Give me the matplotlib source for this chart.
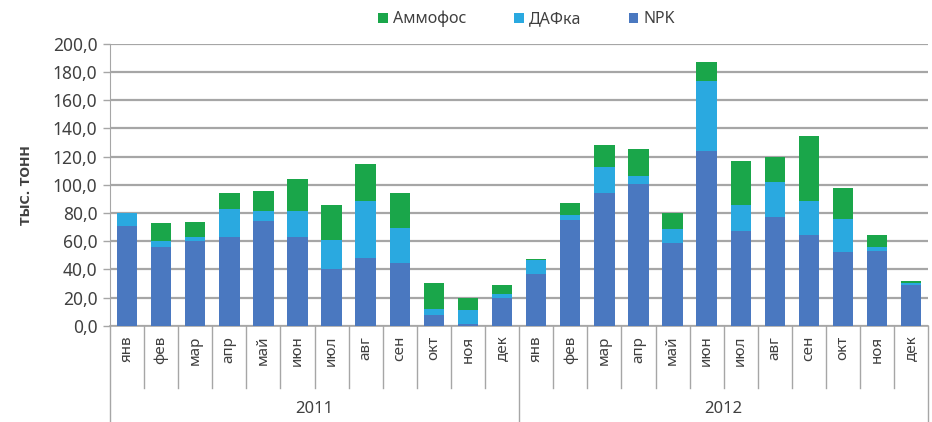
import numpy as np
import matplotlib
matplotlib.use('Agg')
import matplotlib.pyplot as plt
import matplotlib.transforms as mtransforms

plt.rcParams['font.family'] = ['Noto Sans', 'DejaVu Sans']

months = ['янв', 'фев', 'мар', 'апр', 'май', 'июн', 'июл', 'авг', 'сен', 'окт', 'ноя', 'дек']
years = ['2011', '2012']

# тыс. тонн
npk = [70.5, 56.0, 60.5, 62.7, 74.0, 63.0, 40.2, 48.3, 44.5, 8.0, 1.5, 20.0,
       37.0, 75.0, 94.0, 100.6, 58.5, 124.0, 67.5, 77.0, 64.4, 52.0, 53.0, 29.0]
dap = [9.5, 4.0, 2.3, 20.0, 7.2, 18.5, 21.0, 40.0, 25.0, 4.0, 10.0, 2.3,
       9.5, 3.3, 19.0, 6.0, 10.0, 49.7, 18.0, 25.3, 24.0, 23.5, 3.0, 1.7]
ammo = [0.3, 12.7, 11.0, 11.3, 14.2, 22.5, 24.7, 26.7, 24.5, 18.0, 8.4, 6.6,
        1.0, 8.5, 15.0, 19.0, 11.5, 13.3, 31.3, 17.5, 46.3, 22.0, 8.2, 1.2]
yticks = np.arange(0, 201, 20)

c_npk = '#4a78c0'
c_dap = '#2aa9e0'
c_ammo = '#1aa64a'
grey = '#a6a6a6'
txt = '#404040'

labels = months * 2
x = np.arange(len(labels))
npk = np.array(npk)
dap = np.array(dap)
ammo = np.array(ammo)

fig = plt.figure(figsize=(9.32, 4.22), dpi=100)
ax = fig.add_axes([0.118, 0.228, 0.878, 0.668])

w = 0.6
ax.bar(x, npk, w, color=c_npk, label='NPK', zorder=3)
ax.bar(x, dap, w, bottom=npk, color=c_dap, label='ДАФка', zorder=3)
ax.bar(x, ammo, w, bottom=npk + dap, color=c_ammo, label='Аммофос', zorder=3)

ax.set_ylim(0, 200)
ax.set_xlim(-0.5, len(labels) - 0.5)
ax.set_yticks(yticks)
ax.set_yticklabels([('%.1f' % v).replace('.', ',') for v in yticks],
                   fontsize=12.5, color=txt)
ax.yaxis.grid(True, color=grey, linewidth=1.6, zorder=0)
ax.tick_params(axis='y', length=5, width=1, color=grey, pad=4)
ax.set_xticks([])
for s in ['top', 'right']:
    ax.spines[s].set_visible(False)
ax.spines['left'].set_color(grey)
ax.spines['bottom'].set_color(grey)
ax.spines['bottom'].set_linewidth(1.2)

ax.set_ylabel('ТЫС. ТОНН', fontsize=9, fontweight='bold', color=txt,
              labelpad=14, family='DejaVu Sans')

# month labels and category separators
trans = mtransforms.blended_transform_factory(ax.transData, ax.transAxes)
for i, m in enumerate(labels):
    ax.text(x[i], -0.035, m, transform=trans, rotation=90, ha='center', va='top',
            fontsize=11, color=txt, clip_on=False)
for i in range(1, len(labels)):
    if i % 12 == 0:
        continue
    ax.plot([i - 0.5, i - 0.5], [0, -0.22], transform=trans, color=grey,
            linewidth=1, clip_on=False)
for i in range(0, len(labels) + 1, 12):
    ax.plot([i - 0.5, i - 0.5], [0, -0.36], transform=trans, color=grey,
            linewidth=1, clip_on=False)
for j, yr in enumerate(years):
    ax.text(j * 12 + 5.5, -0.295, yr, transform=trans, ha='center', va='center',
            fontsize=12, color=txt, clip_on=False)

h, l = ax.get_legend_handles_labels()
fig.legend(h[::-1], l[::-1], loc='center', bbox_to_anchor=(0.565, 0.955), ncol=3,
           frameon=False, fontsize=11.5, handlelength=0.6, handleheight=0.6,
           handletextpad=0.3, columnspacing=3.0, labelcolor=txt)

plt.savefig('out.png', dpi=100)
